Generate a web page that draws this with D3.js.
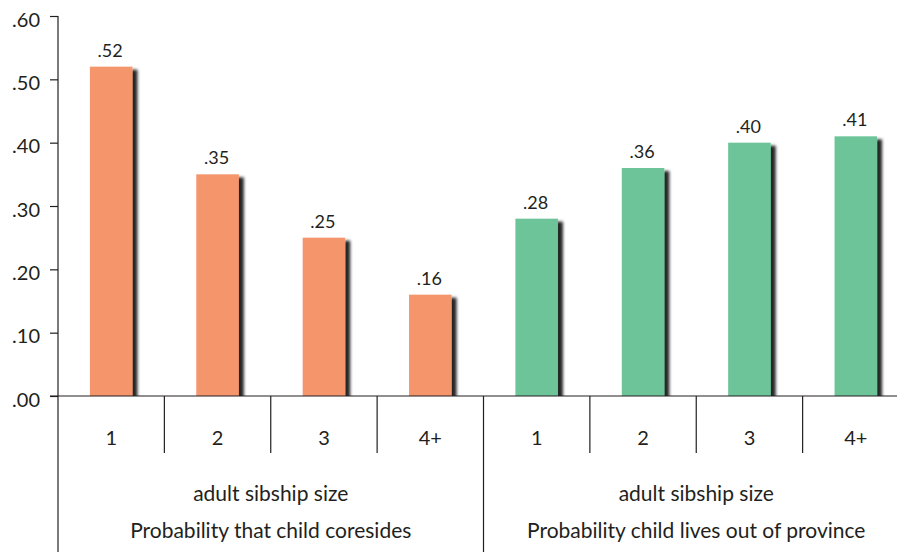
<!DOCTYPE html>
<html>
<head>
<meta charset="utf-8">
<script src="https://cdn.jsdelivr.net/npm/d3@7"></script>
<style>
  html, body { margin: 0; padding: 0; background: #fff; }
  svg { display: block; }
  text { font-family: Lato, "Open Sans", sans-serif; fill: #231f20; }
</style>
</head>
<body>
<svg id="chart" width="897" height="552"></svg>
<script>
// ---- data ----
const categoryKeys = ["a1", "a2", "a3", "a4", "b1", "b2", "b3", "b4"];
const categoryLabels = ["1", "2", "3", "4+", "1", "2", "3", "4+"];
const coresideValues = [0.52, 0.35, 0.25, 0.16];
const outOfProvinceValues = [0.28, 0.36, 0.40, 0.41];
const groupNames = ["Probability that child coresides", "Probability child lives out of province"];
const groupSubtitle = "adult sibship size";
const yTicks = [0, 0.1, 0.2, 0.3, 0.4, 0.5, 0.6];
const colors = ["#F5956C", "#6CC498"];

(function () {
const values = coresideValues.concat(outOfProvinceValues);
const groupOf = categoryKeys.map((k, i) => i < 4 ? 0 : 1);

// ---- layout ----
const svg = d3.select("#chart");
const plotLeft = 58, plotRight = 909, plotTop = 16, base = 396;

const x = d3.scaleBand().domain(categoryKeys).range([plotLeft, plotRight]).padding(0);
const y = d3.scaleLinear().domain([0, 0.6]).range([base, plotTop]);
const barW = x.bandwidth() * 0.4;

const defs = svg.append("defs");
const f = defs.append("filter").attr("id", "shadow")
  .attr("x", "-20%").attr("y", "-10%").attr("width", "160%").attr("height", "130%");
f.append("feDropShadow").attr("dx", 5).attr("dy", 3).attr("stdDeviation", 1.8)
  .attr("flood-color", "#000").attr("flood-opacity", 0.85);
defs.append("clipPath").attr("id", "plotClip")
  .append("rect").attr("x", plotLeft).attr("y", 0).attr("width", 900).attr("height", base);

// bars
svg.append("g").attr("clip-path", "url(#plotClip)")
  .selectAll("rect").data(categoryKeys).join("rect")
  .attr("x", k => x(k) + (x.bandwidth() - barW) / 2)
  .attr("y", (k, i) => y(values[i]))
  .attr("width", barW)
  .attr("height", (k, i) => base - y(values[i]))
  .attr("fill", (k, i) => colors[groupOf[i]])
  .attr("filter", "url(#shadow)");

// value labels
svg.append("g").selectAll("text").data(categoryKeys).join("text")
  .attr("x", k => x(k) + x.bandwidth() / 2 - 1)
  .attr("y", (k, i) => y(values[i]) - 10)
  .attr("text-anchor", "middle")
  .attr("font-size", 18)
  .text((k, i) => d3.format(".2f")(values[i]).replace(/^0/, ""));

// y axis
const yAxis = svg.append("g").attr("transform", `translate(${plotLeft},0)`)
  .call(d3.axisLeft(y).tickValues(yTicks).tickSize(8).tickPadding(10)
    .tickFormat(v => d3.format(".2f")(v).replace(/^0/, "")));
yAxis.select(".domain").remove();
yAxis.selectAll(".tick line").attr("stroke", "#231f20").attr("stroke-width", 1.2);
yAxis.selectAll(".tick text").attr("font-size", 20).attr("dy", "0.5em")
  .style("font-family", "Lato, 'Open Sans', sans-serif").attr("fill", "#231f20");

// axis vertical line (continues through table)
svg.append("line").attr("x1", plotLeft).attr("x2", plotLeft).attr("y1", plotTop).attr("y2", 552)
  .attr("stroke", "#231f20").attr("stroke-width", 1.2);
// baseline
svg.append("line").attr("x1", plotLeft - 8).attr("x2", 897).attr("y1", base).attr("y2", base)
  .attr("stroke", "#231f20").attr("stroke-width", 1.2);

// category separators
svg.append("g").selectAll("line").data(categoryKeys.slice(1)).join("line")
  .attr("x1", k => x(k)).attr("x2", k => x(k))
  .attr("y1", base)
  .attr("y2", k => k === "b1" ? 552 : 453)
  .attr("stroke", "#231f20").attr("stroke-width", 1.2);

// category labels
svg.append("g").selectAll("text").data(categoryKeys).join("text")
  .attr("x", k => x(k) + x.bandwidth() / 2)
  .attr("y", 445)
  .attr("text-anchor", "middle")
  .attr("font-size", 20)
  .text((k, i) => categoryLabels[i]);

// group labels
const groupCenters = [
  (plotLeft + x("b1")) / 2,
  (x("b1") + plotRight) / 2
];
groupNames.forEach((name, g) => {
  svg.append("text").attr("x", groupCenters[g]).attr("y", 501)
    .attr("text-anchor", "middle").attr("font-size", 21).text(groupSubtitle);
  svg.append("text").attr("x", groupCenters[g]).attr("y", 538)
    .attr("text-anchor", "middle").attr("font-size", 21).text(name);
});
})();
</script>
</body>
</html>
